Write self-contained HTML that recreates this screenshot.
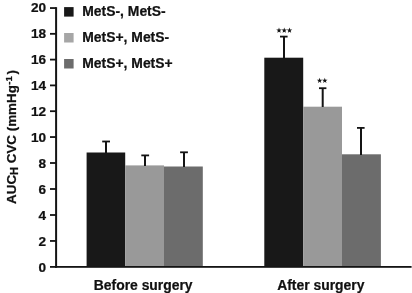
<!DOCTYPE html>
<html>
<head>
<meta charset="utf-8">
<title>AUC CVC chart</title>
<style>
html,body{margin:0;padding:0;background:#fff;}
body{width:412px;height:293px;overflow:hidden;position:relative;font-family:"Liberation Sans",sans-serif;}
svg{position:absolute;left:0;top:0;display:block;will-change:transform;}
text{font-family:"Liberation Sans",sans-serif;font-weight:bold;fill:#111;stroke:#111;stroke-width:0.24px;stroke-linejoin:round;}
</style>
</head>
<body>
<svg width="412" height="293" viewBox="0 0 412 293">
  <rect x="0" y="0" width="412" height="293" fill="#ffffff"/>
  <!-- bars group 1 -->
  <rect x="86.6" y="152.5" width="38.6" height="114.5" fill="#181818"/>
  <rect x="125.2" y="165.4" width="38.8" height="101.6" fill="#999999"/>
  <rect x="164" y="166.5" width="38.8" height="100.5" fill="#6c6c6c"/>
  <!-- bars group 2 -->
  <rect x="264.3" y="57.7" width="38.9" height="209.3" fill="#181818"/>
  <rect x="303.2" y="106.7" width="38.8" height="160.3" fill="#999999"/>
  <rect x="342" y="154.3" width="38.9" height="112.7" fill="#6c6c6c"/>
  <!-- error bars -->
  <g fill="#141414">
    <rect x="105" y="141" width="2" height="12"/><rect x="102.2" y="140.6" width="7.8" height="1.8"/>
    <rect x="144" y="155" width="2" height="11"/><rect x="141.3" y="154.5" width="7.8" height="1.8"/>
    <rect x="183" y="152" width="2" height="15"/><rect x="180.1" y="151.4" width="7.8" height="1.8"/>
    <rect x="283" y="36" width="2" height="23"/><rect x="280" y="35.7" width="7.6" height="1.8"/>
    <rect x="321.7" y="88" width="2" height="19"/><rect x="319" y="87.3" width="7.4" height="1.8"/>
    <rect x="360" y="128" width="2" height="27"/><rect x="357" y="127" width="7.6" height="1.8"/>
  </g>
  <!-- axes -->
  <g fill="#141414">
    <rect x="55.1" y="7.15" width="2" height="260.65"/>
    <rect x="55.1" y="266.0" width="356.5" height="1.8"/>
    <rect x="50" y="7.15" width="6" height="1.8"/>
    <rect x="50" y="32.93" width="6" height="1.8"/>
    <rect x="50" y="58.70" width="6" height="1.8"/>
    <rect x="50" y="84.50" width="6" height="1.8"/>
    <rect x="50" y="110.30" width="6" height="1.8"/>
    <rect x="50" y="136.15" width="6" height="1.8"/>
    <rect x="50" y="162.10" width="6" height="1.8"/>
    <rect x="50" y="188.10" width="6" height="1.8"/>
    <rect x="50" y="214.10" width="6" height="1.8"/>
    <rect x="50" y="240.05" width="6" height="1.8"/>
    <rect x="50" y="266.00" width="6" height="1.8"/>
  </g>
  <!-- tick labels -->
  <g font-size="13.6" text-anchor="end">
    <text x="46.1" y="11.95">20</text>
    <text x="46.1" y="37.95">18</text>
    <text x="46.1" y="63.94">16</text>
    <text x="46.1" y="89.94">14</text>
    <text x="46.1" y="115.93">12</text>
    <text x="46.1" y="141.92">10</text>
    <text x="46.1" y="167.92">8</text>
    <text x="46.1" y="193.91">6</text>
    <text x="46.1" y="219.91">4</text>
    <text x="46.1" y="245.91">2</text>
    <text x="46.1" y="271.90">0</text>
  </g>
  <!-- legend -->
  <rect x="64.1" y="7.1" width="9.5" height="9.5" fill="#181818"/>
  <rect x="64.1" y="33" width="9.5" height="9.5" fill="#a6a6a6"/>
  <rect x="64.1" y="59" width="9.5" height="9.5" fill="#6c6c6c"/>
  <g font-size="13.9">
    <text x="82.3" y="16">MetS-, MetS-</text>
    <text x="82.3" y="42">MetS+, MetS-</text>
    <text x="82.3" y="68">MetS+, MetS+</text>
  </g>
  <!-- stars -->
  <g fill="#141414">
    <polygon points="279.00,27.60 279.68,29.57 281.76,29.60 280.09,30.86 280.70,32.85 279.00,31.65 277.30,32.85 277.91,30.86 276.24,29.60 278.32,29.57"/>
    <polygon points="284.25,27.60 284.93,29.57 287.01,29.60 285.34,30.86 285.95,32.85 284.25,31.65 282.55,32.85 283.16,30.86 281.49,29.60 283.57,29.57"/>
    <polygon points="289.50,27.60 290.18,29.57 292.26,29.60 290.59,30.86 291.20,32.85 289.50,31.65 287.80,32.85 288.41,30.86 286.74,29.60 288.82,29.57"/>
    <polygon points="319.60,77.70 320.28,79.67 322.36,79.70 320.69,80.96 321.30,82.95 319.60,81.75 317.90,82.95 318.51,80.96 316.84,79.70 318.92,79.67"/>
    <polygon points="324.80,77.70 325.48,79.67 327.56,79.70 325.89,80.96 326.50,82.95 324.80,81.75 323.10,82.95 323.71,80.96 322.04,79.70 324.12,79.67"/>
  </g>
  <!-- x labels -->
  <g font-size="13.9" text-anchor="middle">
    <text x="143.2" y="289.5">Before surgery</text>
    <text x="320.8" y="289.5">After surgery</text>
  </g>
  <!-- y label -->
  <text font-size="13.4" text-anchor="middle" transform="translate(16,137) rotate(-90)">AUC<tspan font-size="11" dy="2">H</tspan><tspan dy="-2"> CVC (mmHg</tspan><tspan font-size="9.6" dy="-4.3" dx="0.5">-1</tspan><tspan dy="4.3" dx="1.6">)</tspan></text>
</svg>
</body>
</html>
